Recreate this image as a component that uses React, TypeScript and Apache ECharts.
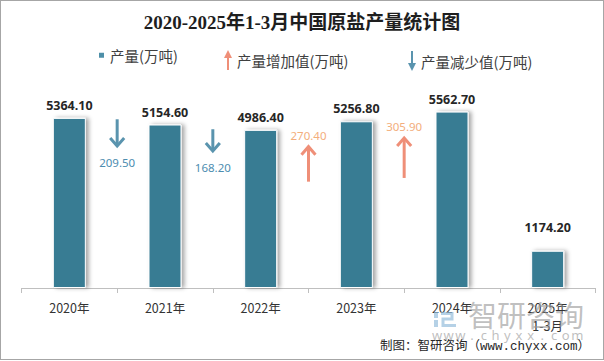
import React, { useEffect, useRef } from "react";
import * as echarts from "echarts";

const years = ["2020年", "2021年", "2022年", "2023年", "2024年", "2025年\n1-3月"];
const production = [5364.1, 5154.6, 4986.4, 5256.8, 5562.7, 1174.2];

// change between consecutive years: index of the left year, value, arrow extent (in 万吨 units of the y scale)
const decreaseIndex = [0, 1];
const decreaseValues = [209.5, 168.2];
const decreaseArrowTop = [5320, 5006];
const decreaseArrowBottom = [4480, 4320];

const increaseIndex = [2, 3];
const increaseValues = [270.4, 305.9];
const increaseArrowTop = [4457, 4730];
const increaseArrowBottom = [3353, 3470];

const BAR = "#377b93";
const DOWN = "#5a94ae";
const UP = "#ef8f78";
const DOWN_TXT = "#4d8db0";
const UP_TXT = "#f3ae7c";
const NUM_FONT = "'Noto Sans', 'Liberation Sans', sans-serif";
const CJK_FONT = "'Noto Sans CJK SC', sans-serif";

function arrowRender(dir: "up" | "down", color: string, txtColor: string) {
  return (params: any, api: any) => {
    const i = api.value(0);
    const pTop = api.coord([i, api.value(1)]);
    const pBot = api.coord([i + 1, api.value(2)]);
    const x = (pTop[0] + pBot[0]) / 2;
    const yTop = pTop[1];
    const yBot = pBot[1];
    const label = Number(api.value(3)).toFixed(2);
    const head =
      dir === "down"
        ? [[x - 7, yBot - 8], [x, yBot], [x + 7, yBot - 8]]
        : [[x - 7, yTop + 8], [x, yTop], [x + 7, yTop + 8]];
    const ty = dir === "down" ? yBot + 17 : yTop - 11;
    return {
      type: "group",
      children: [
        {
          type: "line",
          shape: { x1: x, y1: dir === "down" ? yTop : yTop + 1, x2: x, y2: dir === "down" ? yBot - 1 : yBot },
          style: { stroke: color, lineWidth: 3 },
        },
        {
          type: "polyline",
          shape: { points: head },
          style: { stroke: color, lineWidth: 3, fill: null, lineJoin: "miter" },
        },
        {
          type: "text",
          x: x,
          y: ty,
          style: {
            text: label,
            fill: txtColor,
            fontSize: 11.5,
            fontFamily: NUM_FONT,
            align: "center",
            verticalAlign: "middle",
            textAlign: "center",
            textVerticalAlign: "middle",
          },
        },
      ],
    };
  };
}

export default function App() {
  const ref = useRef<HTMLDivElement>(null);

  useEffect(() => {
    if (!ref.current) return;
    const chart = echarts.init(ref.current, undefined, { renderer: "svg" });

    const barData = production.map((v, i) =>
      i === production.length - 1 ? { value: v, label: { distance: 17 } } : v
    );

    const wwwChars = "www.chyxx.com".split("");
    const wwwTexts = wwwChars.map((c, k) => ({
      type: "text",
      x: 437 + k * 11.7,
      y: 335,
      style: {
        text: c,
        fill: "rgba(170,170,170,0.75)",
        fontSize: 13,
        fontFamily: NUM_FONT,
        textAlign: "center",
        textVerticalAlign: "middle",
        align: "center",
        verticalAlign: "middle",
      },
      z: 100,
    }));

    const legendText = { fontFamily: CJK_FONT, fontSize: 14.5, color: "#404040" };

    const option: any = {
      animation: false,
      backgroundColor: "#ffffff",
      title: {
        text: "2020-2025年1-3月中国原盐产量统计图",
        left: "center",
        top: 8,
        textStyle: {
          fontFamily: "'Liberation Serif', 'Noto Sans CJK SC', serif",
          fontWeight: "bold",
          fontSize: 19,
          color: "#1e1e1e",
        },
      },
      legend: [
        {
          data: [{ name: "产量(万吨)", icon: "rect", itemStyle: { color: "#4d8fa8" } }],
          left: 92,
          top: 43,
          itemWidth: 7,
          itemHeight: 7,
          textStyle: legendText,
        },
        {
          data: [
            {
              name: "产量增加值(万吨)",
              icon: "path://M3,20L5,20L5,8L8,8L4,0L0,8L3,8Z",
              itemStyle: { color: UP },
            },
          ],
          left: 219,
          top: 45,
          itemWidth: 8,
          itemHeight: 20,
          textStyle: legendText,
        },
        {
          data: [
            {
              name: "产量减少值(万吨)",
              icon: "path://M3,0L5,0L5,12L8,12L4,20L0,12L3,12Z",
              itemStyle: { color: DOWN },
            },
          ],
          left: 403,
          top: 46,
          itemWidth: 8,
          itemHeight: 20,
          textStyle: legendText,
        },
      ],
      grid: { left: 21.5, right: 8.5, top: 66, bottom: 73 },
      xAxis: {
        type: "category",
        data: years,
        axisLine: { lineStyle: { color: "#bfbfbf", width: 1 } },
        axisTick: { show: true, length: 5, lineStyle: { color: "#bfbfbf" } },
        axisLabel: {
          margin: 10,
          fontFamily: CJK_FONT,
          fontSize: 12.5,
          color: "#333333",
          lineHeight: 18,
          interval: 0,
        },
      },
      yAxis: {
        type: "value",
        min: 0,
        max: 7000,
        show: false,
        splitLine: { show: false },
      },
      series: [
        {
          name: "产量(万吨)",
          type: "bar",
          data: barData,
          barWidth: 33,
          itemStyle: {
            color: BAR,
            borderColor: "#ffffff",
            borderWidth: 1,
            shadowColor: "rgba(0,0,0,0.35)",
            shadowBlur: 4,
            shadowOffsetX: 3,
            shadowOffsetY: 0,
          },
          label: {
            show: true,
            position: "top",
            distance: 6,
            formatter: (p: any) => Number(p.value).toFixed(2),
            fontFamily: NUM_FONT,
            fontWeight: "bold",
            fontSize: 12.5,
            color: "#262626",
          },
          z: 2,
        },
        {
          name: "产量增加值(万吨)",
          type: "custom",
          itemStyle: { color: UP },
          renderItem: arrowRender("up", UP, UP_TXT),
          encode: { x: 0, y: [1, 2] },
          data: increaseIndex.map((idx, k) => [idx, increaseArrowTop[k], increaseArrowBottom[k], increaseValues[k]]),
          z: 3,
        },
        {
          name: "产量减少值(万吨)",
          type: "custom",
          itemStyle: { color: DOWN },
          renderItem: arrowRender("down", DOWN, DOWN_TXT),
          encode: { x: 0, y: [1, 2] },
          data: decreaseIndex.map((idx, k) => [idx, decreaseArrowTop[k], decreaseArrowBottom[k], decreaseValues[k]]),
          z: 3,
        },
      ],
      graphic: [
        { type: "rect", shape: { x: 434, y: 312, width: 4, height: 6 }, style: { fill: "rgba(150,190,220,0.7)" }, z: 100 },
        { type: "rect", shape: { x: 434, y: 320, width: 4, height: 7 }, style: { fill: "rgba(150,190,220,0.7)" }, z: 100 },
        {
          type: "polyline",
          shape: { points: [[441, 313.5], [452, 313.5], [452, 319], [443, 319], [443, 325.5], [456, 325.5]] },
          style: { stroke: "rgba(150,190,220,0.7)", lineWidth: 3, fill: null },
          z: 100,
        },
        {
          type: "text",
          x: 526,
          y: 314,
          style: {
            text: "智研咨询",
            fill: "rgba(150,150,150,0.6)",
            fontSize: 29,
            fontFamily: CJK_FONT,
            textAlign: "center",
            textVerticalAlign: "middle",
            align: "center",
            verticalAlign: "middle",
          },
          z: 100,
        },
        ...wwwTexts,
        {
          type: "text",
          x: 590,
          y: 347,
          style: {
            text: "制图：智研咨询（www.chyxx.com）",
            fill: "#262626",
            fontSize: 12.5,
            fontFamily: "'Liberation Mono', 'Noto Sans CJK SC', monospace",
            textAlign: "right",
            textVerticalAlign: "middle",
            align: "right",
            verticalAlign: "middle",
          },
          z: 101,
        },
      ],
    };

    chart.setOption(option);
    return () => chart.dispose();
  }, []);

  return (
    <div style={{ position: "fixed", left: 0, top: 0, width: 604, height: 361, background: "#fff" }}>
      <div ref={ref} style={{ position: "absolute", left: 0, top: 0, width: 604, height: 361 }} />
      <div
        style={{
          position: "absolute",
          left: 0,
          top: 0,
          width: 604,
          height: 360,
          boxSizing: "border-box",
          border: "1px solid #a6a6a6",
          pointerEvents: "none",
        }}
      />
    </div>
  );
}
